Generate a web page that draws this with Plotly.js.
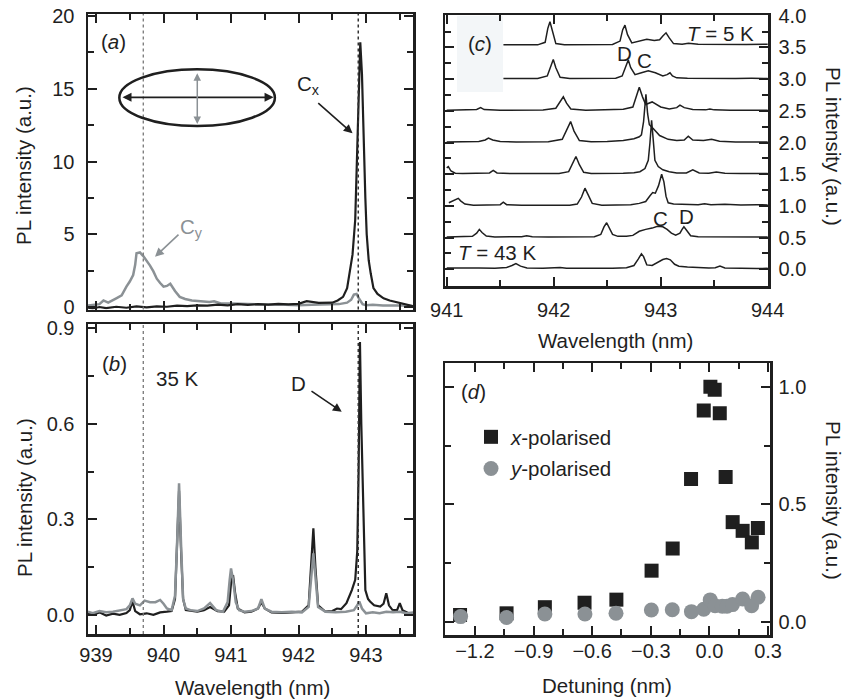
<!DOCTYPE html>
<html>
<head>
<meta charset="utf-8">
<script src="https://cdn.plot.ly/plotly-3.0.1.min.js"></script>
<style>html,body{margin:0;padding:0;background:#fff;}#plot{width:848px;height:700px;}</style>
</head>
<body>
<div id="plot"></div>
<script>
// ---------- Panel (a): polarised PL spectra (a.u.) ----------
const aBlackX = [938.88, 938.95, 939.05, 939.15, 939.3, 939.45, 939.6, 939.75, 939.9, 940.05, 940.2, 940.35, 940.5, 940.65, 940.8, 940.95, 941.1, 941.25, 941.4, 941.55, 941.7, 941.85, 942.0, 942.12, 942.3, 942.4, 942.5, 942.58, 942.66, 942.72, 942.76, 942.8, 942.84, 942.87, 942.9, 942.915, 942.94, 942.96, 942.99, 943.01, 943.04, 943.07, 943.11, 943.17, 943.26, 943.35, 943.45, 943.5, 943.6, 943.7];
const aBlackY = [-0.05, -0.1, 0.0, -0.08, 0.02, -0.05, 0.05, -0.02, 0.05, 0.02, 0.1, 0.06, 0.12, 0.1, 0.16, 0.12, 0.2, 0.15, 0.2, 0.16, 0.22, 0.18, 0.22, 0.4, 0.28, 0.3, 0.3, 0.45, 0.7, 1.3, 2.4, 3.6, 6.0, 10.5, 16.0, 18.2, 16.0, 11.8, 7.5, 5.0, 3.2, 2.3, 1.3, 0.9, 0.6, 0.45, 0.35, 0.25, 0.15, 0.05];
const aGrayX = [938.88, 938.95, 939.05, 939.11, 939.18, 939.3, 939.38, 939.45, 939.5, 939.55, 939.58, 939.6, 939.65, 939.7, 939.75, 939.8, 939.85, 939.9, 939.95, 940.0, 940.05, 940.1, 940.17, 940.24, 940.32, 940.42, 940.55, 940.68, 940.75, 940.85, 941.0, 941.2, 941.4, 941.6, 941.8, 942.0, 942.2, 942.4, 942.6, 942.72, 942.78, 942.82, 942.86, 942.9, 942.95, 943.0, 943.1, 943.25, 943.4, 943.55, 943.7];
const aGrayY = [0.1, 0.15, 0.2, 0.45, 0.3, 0.6, 0.8, 1.4, 1.75, 2.2, 2.9, 3.7, 3.75, 3.5, 3.2, 2.85, 2.45, 1.95, 1.65, 1.4, 1.45, 1.6, 1.1, 0.7, 0.55, 0.45, 0.4, 0.35, 0.4, 0.25, 0.25, 0.2, 0.2, 0.15, 0.15, 0.12, 0.15, 0.18, 0.2, 0.3, 0.5, 0.85, 0.9, 0.55, 0.2, 0.12, 0.15, 0.1, 0.12, 0.1, 0.05];

// ---------- Panel (b): 35 K spectra ----------
const bBlackX = [938.88, 938.95, 939.05, 939.15, 939.25, 939.35, 939.45, 939.5, 939.54, 939.58, 939.65, 939.75, 939.85, 939.95, 940.05, 940.12, 940.17, 940.2, 940.23, 940.26, 940.29, 940.33, 940.4, 940.5, 940.6, 940.69, 940.8, 940.9, 940.97, 941.0, 941.03, 941.06, 941.1, 941.2, 941.3, 941.4, 941.45, 941.5, 941.6, 941.75, 941.9, 942.05, 942.15, 942.19, 942.22, 942.25, 942.29, 942.4, 942.5, 942.57, 942.63, 942.71, 942.79, 942.84, 942.87, 942.89, 942.91, 942.93, 942.96, 942.99, 943.03, 943.06, 943.12, 943.21, 943.26, 943.3, 943.34, 943.39, 943.46, 943.5, 943.54, 943.63, 943.7];
const bBlackY = [0.005, 0.0, 0.008, -0.002, 0.004, 0.0, 0.006, 0.015, 0.042, 0.012, 0.002, 0.005, 0.0, 0.008, 0.01, 0.012, 0.05, 0.2, 0.39, 0.2, 0.05, 0.015, 0.012, 0.01, 0.015, 0.025, 0.012, 0.01, 0.03, 0.1, 0.125, 0.07, 0.02, 0.008, 0.01, 0.02, 0.04, 0.02, 0.008, 0.006, 0.008, 0.01, 0.03, 0.15, 0.272, 0.15, 0.03, 0.01, 0.012, 0.02, 0.018, 0.037, 0.078, 0.11, 0.2, 0.45, 0.857, 0.6, 0.3, 0.078, 0.05, 0.042, 0.03, 0.026, 0.035, 0.068, 0.03, 0.016, 0.015, 0.037, 0.015, 0.005, 0.0];
const bGrayX = [938.88, 938.95, 939.05, 939.15, 939.25, 939.35, 939.45, 939.5, 939.54, 939.58, 939.65, 939.72, 939.8, 939.88, 939.95, 940.0, 940.05, 940.12, 940.17, 940.2, 940.23, 940.26, 940.29, 940.33, 940.4, 940.5, 940.6, 940.69, 940.78, 940.88, 940.95, 940.98, 941.0, 941.03, 941.07, 941.12, 941.2, 941.3, 941.4, 941.45, 941.5, 941.6, 941.75, 941.9, 942.05, 942.15, 942.19, 942.22, 942.25, 942.29, 942.4, 942.55, 942.7, 942.82, 942.87, 942.9, 942.94, 943.0, 943.1, 943.2, 943.3, 943.4, 943.5, 943.6, 943.7];
const bGrayY = [0.01, 0.005, 0.012, 0.008, 0.01, 0.015, 0.018, 0.03, 0.052, 0.035, 0.03, 0.045, 0.04, 0.04, 0.047, 0.035, 0.02, 0.015, 0.06, 0.22, 0.413, 0.22, 0.05, 0.02, 0.015, 0.012, 0.02, 0.037, 0.015, 0.01, 0.04, 0.11, 0.146, 0.11, 0.04, 0.015, 0.01, 0.012, 0.02, 0.049, 0.02, 0.01, 0.008, 0.01, 0.008, 0.025, 0.12, 0.193, 0.12, 0.025, 0.01, 0.008, 0.01, 0.015, 0.03, 0.042, 0.02, 0.005, 0.008, 0.005, 0.01, 0.008, 0.01, 0.005, 0.008];

// ---------- Panel (c): temperature series (relative intensity + offsets) ----------
const cOffsets = [0, 0.5, 1.0, 1.5, 2.0, 2.5, 3.0, 3.5];
const c1X = [941.0, 941.15, 941.3, 941.45, 941.56, 941.61, 941.647, 941.69, 941.75, 941.9, 942.0, 942.06, 942.12, 942.25, 942.4, 942.55, 942.68, 942.75, 942.79, 942.82, 942.84, 942.87, 942.92, 942.97, 943.02, 943.055, 943.09, 943.13, 943.17, 943.25, 943.35, 943.45, 943.51, 943.554, 943.6, 943.7, 943.8, 943.9, 944.0];
const c1Y = [0.02, 0.015, 0.02, 0.018, 0.03, 0.06, 0.09, 0.05, 0.02, 0.018, 0.022, 0.03, 0.018, 0.015, 0.02, 0.018, 0.025, 0.06, 0.16, 0.245, 0.2, 0.07, 0.06, 0.11, 0.155, 0.17, 0.15, 0.08, 0.05, 0.035, 0.025, 0.02, 0.025, 0.05, 0.02, 0.015, 0.018, 0.012, 0.015];
const c2X = [941.0, 941.15, 941.24, 941.28, 941.305, 941.33, 941.37, 941.45, 941.6, 941.7, 941.747, 941.8, 941.95, 942.1, 942.25, 942.38, 942.44, 942.47, 942.495, 942.52, 942.55, 942.6, 942.68, 942.74, 942.8, 942.86, 942.92, 942.97, 943.02, 943.06, 943.1, 943.14, 943.18, 943.2, 943.217, 943.24, 943.28, 943.35, 943.5, 943.65, 943.8, 944.0];
const c2Y = [0.01, 0.01, 0.02, 0.07, 0.13, 0.08, 0.025, 0.01, 0.01, 0.015, 0.03, 0.012, 0.01, 0.01, 0.012, 0.015, 0.05, 0.17, 0.235, 0.16, 0.05, 0.02, 0.02, 0.035, 0.1, 0.13, 0.15, 0.18, 0.17, 0.13, 0.07, 0.04, 0.07, 0.13, 0.17, 0.12, 0.03, 0.012, 0.01, 0.012, 0.008, 0.01];
const c3X = [941.02, 941.06, 941.09, 941.108, 941.13, 941.17, 941.25, 941.4, 941.5, 941.529, 941.56, 941.7, 941.85, 942.0, 942.15, 942.22, 942.26, 942.292, 942.32, 942.36, 942.45, 942.6, 942.72, 942.8, 942.86, 942.9, 942.925, 942.95, 942.98, 943.009, 943.03, 943.05, 943.07, 943.12, 943.25, 943.35, 943.41, 943.47, 943.6, 943.75, 943.9, 944.0];
const c3Y = [0.05, 0.08, 0.1, 0.12, 0.08, 0.03, 0.01, 0.01, 0.02, 0.06, 0.02, 0.01, 0.008, 0.012, 0.01, 0.03, 0.14, 0.28, 0.17, 0.04, 0.01, 0.012, 0.02, 0.04, 0.07, 0.16, 0.21, 0.2, 0.32, 0.5, 0.38, 0.15, 0.05, 0.03, 0.02, 0.02, 0.035, 0.02, 0.025, 0.015, 0.02, 0.015];
const c4X = [941.0, 941.015, 941.04, 941.08, 941.15, 941.3, 941.4, 941.435, 941.47, 941.6, 941.75, 941.9, 942.05, 942.14, 942.18, 942.208, 942.24, 942.28, 942.35, 942.5, 942.65, 942.75, 942.806, 942.853, 942.884, 942.9, 942.915, 942.93, 942.946, 942.977, 943.02, 943.08, 943.15, 943.24, 943.3, 943.36, 943.45, 943.52, 943.6, 943.75, 943.9, 944.0];
const c4Y = [0.1, 0.12, 0.05, 0.015, 0.01, 0.01, 0.02, 0.06, 0.02, 0.01, 0.012, 0.01, 0.012, 0.04, 0.18, 0.28, 0.15, 0.03, 0.012, 0.01, 0.015, 0.025, 0.04, 0.09, 0.22, 0.5, 0.85, 0.55, 0.22, 0.12, 0.07, 0.04, 0.02, 0.02, 0.07, 0.02, 0.015, 0.035, 0.015, 0.01, 0.012, 0.01];
const c5X = [941.0, 941.15, 941.3, 941.36, 941.39, 941.43, 941.5, 941.65, 941.8, 941.95, 942.08, 942.12, 942.158, 942.19, 942.24, 942.35, 942.5, 942.65, 942.75, 942.8, 942.82, 942.84, 942.862, 942.878, 942.894, 942.93, 942.99, 943.07, 943.15, 943.22, 943.258, 943.3, 943.4, 943.476, 943.55, 943.7, 943.85, 944.0];
const c5Y = [0.01, 0.012, 0.015, 0.04, 0.07, 0.04, 0.015, 0.01, 0.01, 0.012, 0.05, 0.2, 0.33, 0.18, 0.03, 0.012, 0.015, 0.03, 0.06, 0.09, 0.12, 0.33, 0.76, 0.45, 0.28, 0.22, 0.11, 0.05, 0.03, 0.04, 0.1, 0.04, 0.03, 0.05, 0.02, 0.01, 0.012, 0.01];
const c6X = [941.0, 941.15, 941.28, 941.317, 941.35, 941.5, 941.7, 941.9, 942.02, 942.06, 942.09, 942.12, 942.16, 942.3, 942.5, 942.65, 942.74, 942.77, 942.8, 942.83, 942.86, 942.92, 943.0, 943.08, 943.15, 943.18, 943.22, 943.3, 943.42, 943.46, 943.5, 943.65, 943.8, 944.0];
const c6Y = [0.01, 0.012, 0.02, 0.05, 0.02, 0.01, 0.01, 0.012, 0.04, 0.14, 0.22, 0.12, 0.03, 0.01, 0.015, 0.025, 0.06, 0.2, 0.37, 0.22, 0.1, 0.14, 0.06, 0.03, 0.05, 0.09, 0.05, 0.02, 0.015, 0.03, 0.015, 0.01, 0.012, 0.01];
const c7X = [941.53, 941.7, 941.85, 941.94, 941.97, 941.996, 942.02, 942.06, 942.15, 942.3, 942.45, 942.58, 942.64, 942.67, 942.697, 942.72, 942.76, 942.82, 942.884, 942.95, 943.02, 943.06, 943.087, 943.11, 943.15, 943.25, 943.4, 943.55, 943.7, 943.85, 944.0];
const c7Y = [0.01, 0.012, 0.01, 0.05, 0.2, 0.31, 0.18, 0.03, 0.01, 0.012, 0.01, 0.015, 0.05, 0.2, 0.3, 0.18, 0.07, 0.1, 0.13, 0.1, 0.05, 0.07, 0.1, 0.05, 0.02, 0.015, 0.01, 0.012, 0.01, 0.012, 0.01];
const c8X = [941.53, 941.7, 941.85, 941.92, 941.945, 941.965, 941.985, 942.02, 942.1, 942.25, 942.4, 942.55, 942.62, 942.645, 942.666, 942.69, 942.73, 942.8, 942.87, 942.94, 942.99, 943.02, 943.05, 943.08, 943.12, 943.2, 943.26, 943.35, 943.5, 943.65, 943.8, 944.0];
const c8Y = [0.04, 0.045, 0.04, 0.08, 0.3, 0.405, 0.28, 0.06, 0.04, 0.042, 0.04, 0.045, 0.1, 0.28, 0.35, 0.2, 0.07, 0.1, 0.13, 0.11, 0.12, 0.18, 0.23, 0.15, 0.06, 0.05, 0.065, 0.05, 0.045, 0.05, 0.045, 0.05];

// ---------- Panel (d): intensity vs detuning ----------
const detuneX = [-1.276, -1.038, -0.842, -0.639, -0.476, -0.296, -0.188, -0.094, -0.029, 0.005, 0.027, 0.053, 0.083, 0.119, 0.170, 0.217, 0.248];
const xPolarised = [0.031, 0.038, 0.064, 0.083, 0.096, 0.219, 0.313, 0.608, 0.899, 1.0, 0.987, 0.887, 0.616, 0.425, 0.388, 0.339, 0.40];
const detuneY = [-1.273, -1.038, -0.842, -0.637, -0.478, -0.297, -0.19, -0.092, -0.029, 0.004, 0.029, 0.066, 0.09, 0.118, 0.17, 0.216, 0.249];
const yPolarised = [0.024, 0.020, 0.035, 0.035, 0.038, 0.052, 0.053, 0.045, 0.055, 0.095, 0.07, 0.068, 0.068, 0.075, 0.099, 0.07, 0.106];

// ---------- styling ----------
const FONT = 'Liberation Sans, Arial, Helvetica, sans-serif';
const INK = '#1f1f1f';
const GRAY = '#8b9195';
const FS = 20;      // tick labels
const TS = 20.5;    // titles / annotations

const cXs = [c1X, c2X, c3X, c4X, c5X, c6X, c7X, c8X];
const cYs = [c1Y, c2Y, c3Y, c4Y, c5Y, c6Y, c7Y, c8Y];

const traces = [];
traces.push({x: aGrayX, y: aGrayY, xaxis: 'x', yaxis: 'y', mode: 'lines', line: {color: GRAY, width: 2.5}, showlegend: false, hoverinfo: 'skip'});
traces.push({x: aBlackX, y: aBlackY, xaxis: 'x', yaxis: 'y', mode: 'lines', line: {color: INK, width: 2.2}, showlegend: false, hoverinfo: 'skip'});
traces.push({x: bBlackX, y: bBlackY, xaxis: 'x2', yaxis: 'y2', mode: 'lines', line: {color: INK, width: 2.2}, showlegend: false, hoverinfo: 'skip'});
traces.push({x: bGrayX, y: bGrayY, xaxis: 'x2', yaxis: 'y2', mode: 'lines', line: {color: GRAY, width: 2.5}, showlegend: false, hoverinfo: 'skip'});
cXs.forEach((xs, i) => {
  traces.push({x: xs, y: cYs[i].map(v => v + cOffsets[i]), xaxis: 'x3', yaxis: 'y3', mode: 'lines',
    line: {color: INK, width: 1.5}, showlegend: false, hoverinfo: 'skip'});
});
traces.push({x: detuneX, y: xPolarised, xaxis: 'x4', yaxis: 'y4', mode: 'markers', name: '<i>x</i>-polarised',
  legendgroup: 'gx', marker: {symbol: 'square', size: 14, color: INK}, hoverinfo: 'skip'});
traces.push({x: detuneY, y: yPolarised, xaxis: 'x4', yaxis: 'y4', mode: 'markers', name: '<i>y</i>-polarised',
  legendgroup: 'gy', marker: {symbol: 'circle', size: 15, color: GRAY}, hoverinfo: 'skip'});

function minorOf(dt, t0) {
  return {ticks: 'inside', ticklen: 6, tickwidth: 2, tickcolor: INK, showgrid: false, dtick: dt, tick0: t0};
}
function ax(extra) {
  return Object.assign({
    showline: true, linecolor: INK, linewidth: 2.5, mirror: 'allticks',
    ticks: 'inside', ticklen: 9, tickwidth: 2, tickcolor: INK,
    showgrid: false, zeroline: false, fixedrange: true,
    tickfont: {family: FONT, size: FS, color: INK}
  }, extra);
}
const W = 848, H = 700;
const px = v => v / W, py = v => 1 - v / H;

const layout = {
  width: W, height: H,
  margin: {l: 0, r: 0, t: 0, b: 0},
  paper_bgcolor: '#fff', plot_bgcolor: 'rgba(0,0,0,0)',
  font: {family: FONT, size: FS, color: INK},
  showlegend: true,
  legend: {x: px(471), y: py(417), xanchor: 'left', yanchor: 'top', bgcolor: 'rgba(0,0,0,0)',
    font: {family: FONT, size: TS, color: INK}, tracegroupgap: 2, itemclick: false},
  xaxis: ax({domain: [px(88), px(413)], anchor: 'y', range: [938.881, 943.696], dtick: 1, tick0: 939,
    showticklabels: false, minor: minorOf(0.5, 939)}),
  yaxis: ax({domain: [py(309.5), py(14)], anchor: 'x', range: [-0.17, 20.14], dtick: 5, tick0: 0, ticklabelstandoff: 7,
    minor: minorOf(2.5, 0)}),
  xaxis2: ax({domain: [px(88), px(413)], anchor: 'y2', range: [938.881, 943.696], dtick: 1, tick0: 939, ticklabelstandoff: 1,
    minor: minorOf(0.5, 939)}),
  yaxis2: ax({domain: [py(634), py(324)], anchor: 'x2', range: [-0.06, 0.9135], dtick: 0.3, tick0: 0, tickformat: '.1f', ticklabelstandoff: 7,
    minor: minorOf(0.15, 0)}),
  xaxis3: ax({domain: [px(445), px(768)], anchor: 'y3', range: [940.984, 944.003], dtick: 1, tick0: 941, ticklabelstandoff: 4,
    minor: minorOf(0.5, 941)}),
  yaxis3: ax({domain: [py(286), py(15)], anchor: 'x3', side: 'right', range: [-0.263, 4.011], dtick: 0.5, tick0: 0, tickformat: '.1f', ticklabelstandoff: 4,
    minor: minorOf(0.25, 0)}),
  xaxis4: ax({domain: [px(445), px(770)], anchor: 'y4', range: [-1.353, 0.31], dtick: 0.3, tick0: 0, tickformat: '.1f', ticklabelstandoff: -4,
    minor: minorOf(0.15, 0)}),
  yaxis4: ax({domain: [py(635), py(363.3)], anchor: 'x4', side: 'right', range: [-0.054, 1.099], dtick: 0.5, tick0: 0, tickformat: '.1f', ticklabelstandoff: 2,
    minor: minorOf(0.25, 0)}),
  shapes: [
    {type: 'rect', xref: 'paper', yref: 'paper', x0: px(457), x1: px(503), y0: py(92), y1: py(16), fillcolor: '#f3f6f8', line: {width: 0}, layer: 'below'},
    {type: 'line', xref: 'x', yref: 'y domain', x0: 939.7, x1: 939.7, y0: 0, y1: 1, line: {color: '#777', width: 1.3, dash: 'dot'}},
    {type: 'line', xref: 'x', yref: 'y domain', x0: 942.885, x1: 942.885, y0: 0, y1: 1, line: {color: '#333', width: 1.5, dash: 'dot'}},
    {type: 'line', xref: 'x2', yref: 'y2 domain', x0: 939.7, x1: 939.7, y0: 0, y1: 1, line: {color: '#777', width: 1.3, dash: 'dot'}},
    {type: 'line', xref: 'x2', yref: 'y2 domain', x0: 942.885, x1: 942.885, y0: 0, y1: 1, line: {color: '#333', width: 1.5, dash: 'dot'}},
    {type: 'circle', xref: 'x', yref: 'y', x0: 939.345, x1: 941.65, y0: 12.44, y1: 16.34, line: {color: INK, width: 2.5}}
  ],
  annotations: []
};

function txt(text, x, y, xref, yref, extra) {
  layout.annotations.push(Object.assign({text: text, x: x, y: y, xref: xref, yref: yref, showarrow: false,
    font: {family: FONT, size: TS, color: INK}, xanchor: 'center', yanchor: 'middle'}, extra || {}));
}
function arrow(x, y, axv, ayv, xref, yref, color, extra) {
  layout.annotations.push(Object.assign({text: '', x: x, y: y, ax: axv, ay: ayv, xref: xref, yref: yref, axref: xref, ayref: yref,
    showarrow: true, arrowhead: 2, arrowsize: 1.1, arrowwidth: 1.6, arrowcolor: color}, extra || {}));
}

// panel labels & annotations
txt('(<i>a</i>)', 939.26, 18.23, 'x', 'y');
txt('C<sub>x</sub>', 942.15, 15.26, 'x', 'y');
arrow(942.80, 11.94, 942.27, 14.11, 'x', 'y', INK);
txt('C<sub>y</sub>', 940.42, 5.41, 'x', 'y', {font: {family: FONT, size: TS, color: GRAY}});
arrow(939.874, 3.46, 940.244, 5.07, 'x', 'y', GRAY);
arrow(941.63, 14.41, 939.37, 14.41, 'x', 'y', INK, {arrowside: 'end+start', arrowsize: 1.0, arrowwidth: 1.8});
arrow(940.50, 12.58, 940.50, 16.17, 'x', 'y', GRAY, {arrowside: 'end+start', arrowsize: 1.0, arrowwidth: 1.5});

txt('(<i>b</i>)', 939.27, 0.79, 'x2', 'y2');
txt('35 K', 940.195, 0.743, 'x2', 'y2');
txt('D', 942.0, 0.727, 'x2', 'y2');
arrow(942.64, 0.638, 942.17, 0.706, 'x2', 'y2', INK);

txt('(<i>c</i>)', 941.31, 3.565, 'x3', 'y3');
txt('<i>T</i> = 5 K', 943.555, 3.72, 'x3', 'y3');
txt('<i>T</i> = 43 K', 941.47, 0.26, 'x3', 'y3');
txt('D', 942.665, 3.41, 'x3', 'y3');
txt('C', 942.85, 3.30, 'x3', 'y3');
txt('C', 943.0, 0.80, 'x3', 'y3');
txt('D', 943.24, 0.83, 'x3', 'y3');

txt('(<i>d</i>)', -1.205, 0.979, 'x4', 'y4');

// axis titles
txt('PL intensity (a.u.)', px(24), py(166), 'paper', 'paper', {textangle: -90});
txt('PL intensity (a.u.)', px(24), py(498), 'paper', 'paper', {textangle: -90});
txt('PL intensity (a.u.)', px(834), py(146), 'paper', 'paper', {textangle: 90});
txt('PL intensity (a.u.)', px(834), py(500), 'paper', 'paper', {textangle: 90});
txt('Wavelength (nm)', px(252), py(687), 'paper', 'paper');
txt('Wavelength (nm)', px(615), py(340), 'paper', 'paper');
txt('Detuning (nm)', px(607), py(685), 'paper', 'paper');

Plotly.newPlot('plot', traces, layout, {staticPlot: true, displayModeBar: false});
</script>
</body>
</html>
